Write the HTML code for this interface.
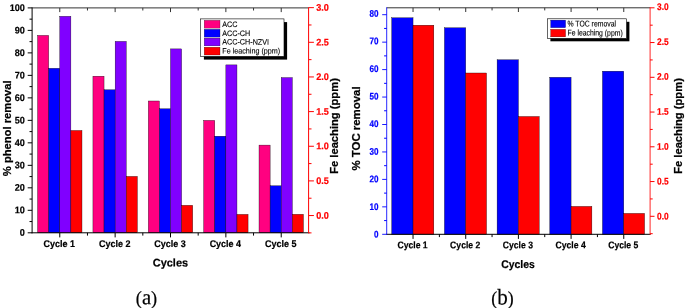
<!DOCTYPE html>
<html><head><meta charset="utf-8"><title>Reusability charts</title>
<style>html,body{margin:0;padding:0;background:#fff;}svg{display:block;will-change:transform;opacity:0.999;}</style>
</head><body>
<svg width="685" height="308" viewBox="0 0 685 308">
<rect width="685" height="308" fill="#fff"/>
<rect x="37.58" y="35.40" width="11.10" height="197.40" fill="#ff0080" stroke="#000" stroke-width="0.35"/>
<rect x="48.68" y="68.30" width="11.10" height="164.50" fill="#0000ff" stroke="#000" stroke-width="0.35"/>
<rect x="59.78" y="16.30" width="11.10" height="216.50" fill="#8000ff" stroke="#000" stroke-width="0.35"/>
<rect x="70.88" y="130.50" width="11.10" height="102.30" fill="#ff0000" stroke="#000" stroke-width="0.35"/>
<rect x="92.94" y="76.20" width="11.10" height="156.60" fill="#ff0080" stroke="#000" stroke-width="0.35"/>
<rect x="104.04" y="89.80" width="11.10" height="143.00" fill="#0000ff" stroke="#000" stroke-width="0.35"/>
<rect x="115.14" y="41.40" width="11.10" height="191.40" fill="#8000ff" stroke="#000" stroke-width="0.35"/>
<rect x="126.24" y="176.40" width="11.10" height="56.40" fill="#ff0000" stroke="#000" stroke-width="0.35"/>
<rect x="148.30" y="101.00" width="11.10" height="131.80" fill="#ff0080" stroke="#000" stroke-width="0.35"/>
<rect x="159.40" y="108.80" width="11.10" height="124.00" fill="#0000ff" stroke="#000" stroke-width="0.35"/>
<rect x="170.50" y="48.90" width="11.10" height="183.90" fill="#8000ff" stroke="#000" stroke-width="0.35"/>
<rect x="181.60" y="205.30" width="11.10" height="27.50" fill="#ff0000" stroke="#000" stroke-width="0.35"/>
<rect x="203.66" y="120.40" width="11.10" height="112.40" fill="#ff0080" stroke="#000" stroke-width="0.35"/>
<rect x="214.76" y="136.20" width="11.10" height="96.60" fill="#0000ff" stroke="#000" stroke-width="0.35"/>
<rect x="225.86" y="64.90" width="11.10" height="167.90" fill="#8000ff" stroke="#000" stroke-width="0.35"/>
<rect x="236.96" y="214.40" width="11.10" height="18.40" fill="#ff0000" stroke="#000" stroke-width="0.35"/>
<rect x="259.02" y="145.10" width="11.10" height="87.70" fill="#ff0080" stroke="#000" stroke-width="0.35"/>
<rect x="270.12" y="185.80" width="11.10" height="47.00" fill="#0000ff" stroke="#000" stroke-width="0.35"/>
<rect x="281.22" y="77.60" width="11.10" height="155.20" fill="#8000ff" stroke="#000" stroke-width="0.35"/>
<rect x="292.32" y="214.30" width="11.10" height="18.50" fill="#ff0000" stroke="#000" stroke-width="0.35"/>
<line x1="32.10" y1="7.90" x2="308.90" y2="7.90" stroke="#333" stroke-width="1"/>
<line x1="31.60" y1="232.80" x2="309.40" y2="232.80" stroke="#000" stroke-width="1"/>
<line x1="32.10" y1="7.40" x2="32.10" y2="233.30" stroke="#000" stroke-width="1"/>
<line x1="308.60" y1="7.40" x2="308.60" y2="233.30" stroke="#ff0000" stroke-width="1"/>
<line x1="59.78" y1="232.80" x2="59.78" y2="237.40" stroke="#000" stroke-width="1"/>
<line x1="59.78" y1="7.90" x2="59.78" y2="12.10" stroke="#333" stroke-width="1"/>
<text transform="translate(59.28,247.10) rotate(0.05) scale(0.927,1)" font-family="'Liberation Sans', Arial, sans-serif" font-size="9.7" font-weight="bold" fill="#000" text-anchor="middle" stroke="#000" stroke-width="0.2">Cycle 1</text>
<line x1="115.14" y1="232.80" x2="115.14" y2="237.40" stroke="#000" stroke-width="1"/>
<line x1="115.14" y1="7.90" x2="115.14" y2="12.10" stroke="#333" stroke-width="1"/>
<text transform="translate(114.64,247.10) rotate(0.05) scale(0.927,1)" font-family="'Liberation Sans', Arial, sans-serif" font-size="9.7" font-weight="bold" fill="#000" text-anchor="middle" stroke="#000" stroke-width="0.2">Cycle 2</text>
<line x1="170.50" y1="232.80" x2="170.50" y2="237.40" stroke="#000" stroke-width="1"/>
<line x1="170.50" y1="7.90" x2="170.50" y2="12.10" stroke="#333" stroke-width="1"/>
<text transform="translate(170.00,247.10) rotate(0.05) scale(0.927,1)" font-family="'Liberation Sans', Arial, sans-serif" font-size="9.7" font-weight="bold" fill="#000" text-anchor="middle" stroke="#000" stroke-width="0.2">Cycle 3</text>
<line x1="225.86" y1="232.80" x2="225.86" y2="237.40" stroke="#000" stroke-width="1"/>
<line x1="225.86" y1="7.90" x2="225.86" y2="12.10" stroke="#333" stroke-width="1"/>
<text transform="translate(225.36,247.10) rotate(0.05) scale(0.927,1)" font-family="'Liberation Sans', Arial, sans-serif" font-size="9.7" font-weight="bold" fill="#000" text-anchor="middle" stroke="#000" stroke-width="0.2">Cycle 4</text>
<line x1="281.22" y1="232.80" x2="281.22" y2="237.40" stroke="#000" stroke-width="1"/>
<line x1="281.22" y1="7.90" x2="281.22" y2="12.10" stroke="#333" stroke-width="1"/>
<text transform="translate(280.72,247.10) rotate(0.05) scale(0.927,1)" font-family="'Liberation Sans', Arial, sans-serif" font-size="9.7" font-weight="bold" fill="#000" text-anchor="middle" stroke="#000" stroke-width="0.2">Cycle 5</text>
<line x1="87.46" y1="232.80" x2="87.46" y2="235.60" stroke="#000" stroke-width="1"/>
<line x1="87.46" y1="7.90" x2="87.46" y2="10.50" stroke="#333" stroke-width="1"/>
<line x1="142.82" y1="232.80" x2="142.82" y2="235.60" stroke="#000" stroke-width="1"/>
<line x1="142.82" y1="7.90" x2="142.82" y2="10.50" stroke="#333" stroke-width="1"/>
<line x1="198.18" y1="232.80" x2="198.18" y2="235.60" stroke="#000" stroke-width="1"/>
<line x1="198.18" y1="7.90" x2="198.18" y2="10.50" stroke="#333" stroke-width="1"/>
<line x1="253.54" y1="232.80" x2="253.54" y2="235.60" stroke="#000" stroke-width="1"/>
<line x1="253.54" y1="7.90" x2="253.54" y2="10.50" stroke="#333" stroke-width="1"/>
<line x1="27.70" y1="232.80" x2="32.10" y2="232.80" stroke="#000" stroke-width="1"/>
<text transform="translate(24.90,235.85) rotate(0.05) scale(0.948,1)" font-family="'Liberation Sans', Arial, sans-serif" font-size="9.6" font-weight="bold" fill="#000" text-anchor="end" stroke="#000" stroke-width="0.2">0</text>
<line x1="27.70" y1="210.31" x2="32.10" y2="210.31" stroke="#000" stroke-width="1"/>
<text transform="translate(24.90,213.36) rotate(0.05) scale(0.948,1)" font-family="'Liberation Sans', Arial, sans-serif" font-size="9.6" font-weight="bold" fill="#000" text-anchor="end" stroke="#000" stroke-width="0.2">10</text>
<line x1="27.70" y1="187.82" x2="32.10" y2="187.82" stroke="#000" stroke-width="1"/>
<text transform="translate(24.90,190.87) rotate(0.05) scale(0.948,1)" font-family="'Liberation Sans', Arial, sans-serif" font-size="9.6" font-weight="bold" fill="#000" text-anchor="end" stroke="#000" stroke-width="0.2">20</text>
<line x1="27.70" y1="165.33" x2="32.10" y2="165.33" stroke="#000" stroke-width="1"/>
<text transform="translate(24.90,168.38) rotate(0.05) scale(0.948,1)" font-family="'Liberation Sans', Arial, sans-serif" font-size="9.6" font-weight="bold" fill="#000" text-anchor="end" stroke="#000" stroke-width="0.2">30</text>
<line x1="27.70" y1="142.84" x2="32.10" y2="142.84" stroke="#000" stroke-width="1"/>
<text transform="translate(24.90,145.89) rotate(0.05) scale(0.948,1)" font-family="'Liberation Sans', Arial, sans-serif" font-size="9.6" font-weight="bold" fill="#000" text-anchor="end" stroke="#000" stroke-width="0.2">40</text>
<line x1="27.70" y1="120.35" x2="32.10" y2="120.35" stroke="#000" stroke-width="1"/>
<text transform="translate(24.90,123.40) rotate(0.05) scale(0.948,1)" font-family="'Liberation Sans', Arial, sans-serif" font-size="9.6" font-weight="bold" fill="#000" text-anchor="end" stroke="#000" stroke-width="0.2">50</text>
<line x1="27.70" y1="97.86" x2="32.10" y2="97.86" stroke="#000" stroke-width="1"/>
<text transform="translate(24.90,100.91) rotate(0.05) scale(0.948,1)" font-family="'Liberation Sans', Arial, sans-serif" font-size="9.6" font-weight="bold" fill="#000" text-anchor="end" stroke="#000" stroke-width="0.2">60</text>
<line x1="27.70" y1="75.37" x2="32.10" y2="75.37" stroke="#000" stroke-width="1"/>
<text transform="translate(24.90,78.42) rotate(0.05) scale(0.948,1)" font-family="'Liberation Sans', Arial, sans-serif" font-size="9.6" font-weight="bold" fill="#000" text-anchor="end" stroke="#000" stroke-width="0.2">70</text>
<line x1="27.70" y1="52.88" x2="32.10" y2="52.88" stroke="#000" stroke-width="1"/>
<text transform="translate(24.90,55.93) rotate(0.05) scale(0.948,1)" font-family="'Liberation Sans', Arial, sans-serif" font-size="9.6" font-weight="bold" fill="#000" text-anchor="end" stroke="#000" stroke-width="0.2">80</text>
<line x1="27.70" y1="30.39" x2="32.10" y2="30.39" stroke="#000" stroke-width="1"/>
<text transform="translate(24.90,33.44) rotate(0.05) scale(0.948,1)" font-family="'Liberation Sans', Arial, sans-serif" font-size="9.6" font-weight="bold" fill="#000" text-anchor="end" stroke="#000" stroke-width="0.2">90</text>
<line x1="27.70" y1="7.90" x2="32.10" y2="7.90" stroke="#000" stroke-width="1"/>
<text transform="translate(24.90,10.95) rotate(0.05) scale(0.948,1)" font-family="'Liberation Sans', Arial, sans-serif" font-size="9.6" font-weight="bold" fill="#000" text-anchor="end" stroke="#000" stroke-width="0.2">100</text>
<line x1="29.50" y1="221.56" x2="32.10" y2="221.56" stroke="#000" stroke-width="1"/>
<line x1="29.50" y1="199.06" x2="32.10" y2="199.06" stroke="#000" stroke-width="1"/>
<line x1="29.50" y1="176.58" x2="32.10" y2="176.58" stroke="#000" stroke-width="1"/>
<line x1="29.50" y1="154.09" x2="32.10" y2="154.09" stroke="#000" stroke-width="1"/>
<line x1="29.50" y1="131.60" x2="32.10" y2="131.60" stroke="#000" stroke-width="1"/>
<line x1="29.50" y1="109.11" x2="32.10" y2="109.11" stroke="#000" stroke-width="1"/>
<line x1="29.50" y1="86.62" x2="32.10" y2="86.62" stroke="#000" stroke-width="1"/>
<line x1="29.50" y1="64.12" x2="32.10" y2="64.12" stroke="#000" stroke-width="1"/>
<line x1="29.50" y1="41.64" x2="32.10" y2="41.64" stroke="#000" stroke-width="1"/>
<line x1="29.50" y1="19.15" x2="32.10" y2="19.15" stroke="#000" stroke-width="1"/>
<line x1="308.90" y1="215.55" x2="313.90" y2="215.55" stroke="#ff0000" stroke-width="1"/>
<text transform="translate(316.20,218.65) rotate(0.05) scale(0.948,1)" font-family="'Liberation Sans', Arial, sans-serif" font-size="9.6" font-weight="bold" fill="#ff0000" text-anchor="start" stroke="#ff0000" stroke-width="0.2">0.0</text>
<line x1="308.90" y1="180.90" x2="313.90" y2="180.90" stroke="#ff0000" stroke-width="1"/>
<text transform="translate(316.20,184.00) rotate(0.05) scale(0.948,1)" font-family="'Liberation Sans', Arial, sans-serif" font-size="9.6" font-weight="bold" fill="#ff0000" text-anchor="start" stroke="#ff0000" stroke-width="0.2">0.5</text>
<line x1="308.90" y1="146.25" x2="313.90" y2="146.25" stroke="#ff0000" stroke-width="1"/>
<text transform="translate(316.20,149.35) rotate(0.05) scale(0.948,1)" font-family="'Liberation Sans', Arial, sans-serif" font-size="9.6" font-weight="bold" fill="#ff0000" text-anchor="start" stroke="#ff0000" stroke-width="0.2">1.0</text>
<line x1="308.90" y1="111.60" x2="313.90" y2="111.60" stroke="#ff0000" stroke-width="1"/>
<text transform="translate(316.20,114.70) rotate(0.05) scale(0.948,1)" font-family="'Liberation Sans', Arial, sans-serif" font-size="9.6" font-weight="bold" fill="#ff0000" text-anchor="start" stroke="#ff0000" stroke-width="0.2">1.5</text>
<line x1="308.90" y1="76.95" x2="313.90" y2="76.95" stroke="#ff0000" stroke-width="1"/>
<text transform="translate(316.20,80.05) rotate(0.05) scale(0.948,1)" font-family="'Liberation Sans', Arial, sans-serif" font-size="9.6" font-weight="bold" fill="#ff0000" text-anchor="start" stroke="#ff0000" stroke-width="0.2">2.0</text>
<line x1="308.90" y1="42.30" x2="313.90" y2="42.30" stroke="#ff0000" stroke-width="1"/>
<text transform="translate(316.20,45.40) rotate(0.05) scale(0.948,1)" font-family="'Liberation Sans', Arial, sans-serif" font-size="9.6" font-weight="bold" fill="#ff0000" text-anchor="start" stroke="#ff0000" stroke-width="0.2">2.5</text>
<line x1="308.90" y1="7.65" x2="313.90" y2="7.65" stroke="#ff0000" stroke-width="1"/>
<text transform="translate(316.20,10.75) rotate(0.05) scale(0.948,1)" font-family="'Liberation Sans', Arial, sans-serif" font-size="9.6" font-weight="bold" fill="#ff0000" text-anchor="start" stroke="#ff0000" stroke-width="0.2">3.0</text>
<line x1="308.90" y1="232.88" x2="311.50" y2="232.88" stroke="#ff0000" stroke-width="1"/>
<line x1="308.90" y1="198.23" x2="311.50" y2="198.23" stroke="#ff0000" stroke-width="1"/>
<line x1="308.90" y1="163.58" x2="311.50" y2="163.58" stroke="#ff0000" stroke-width="1"/>
<line x1="308.90" y1="128.93" x2="311.50" y2="128.93" stroke="#ff0000" stroke-width="1"/>
<line x1="308.90" y1="94.28" x2="311.50" y2="94.28" stroke="#ff0000" stroke-width="1"/>
<line x1="308.90" y1="59.63" x2="311.50" y2="59.63" stroke="#ff0000" stroke-width="1"/>
<line x1="308.90" y1="24.98" x2="311.50" y2="24.98" stroke="#ff0000" stroke-width="1"/>
<text transform="translate(170.40,266.60) rotate(0.05) scale(0.979,1)" font-family="'Liberation Sans', Arial, sans-serif" font-size="11.2" font-weight="bold" fill="#000" text-anchor="middle" stroke="#000" stroke-width="0.2">Cycles</text>
<text transform="translate(10.95,128.30) rotate(-90)" font-family="'Liberation Sans', Arial, sans-serif" font-size="11.2" font-weight="bold" fill="#000" text-anchor="middle" stroke="#000" stroke-width="0.25">% phenol removal</text>
<text transform="translate(338.10,126.00) rotate(-90)" font-family="'Liberation Sans', Arial, sans-serif" font-size="11.2" font-weight="bold" fill="#000" text-anchor="middle" stroke="#000" stroke-width="0.25">Fe leaching (ppm)</text>
<rect x="203.90" y="22.10" width="83.20" height="37.50" fill="#000" stroke="none" stroke-width="0"/>
<rect x="200.50" y="18.90" width="83.50" height="37.50" fill="#fff" stroke="#000" stroke-width="0.6"/>
<rect x="204.20" y="20.30" width="15.80" height="7.80" fill="#ff0080" stroke="#000" stroke-width="0.25"/>
<text transform="translate(222.30,27.05) rotate(0.05) scale(0.911,1)" font-family="'Liberation Sans', Arial, sans-serif" font-size="7.9" font-weight="normal" fill="#000" text-anchor="start" stroke="#000" stroke-width="0.12">ACC</text>
<rect x="204.20" y="29.30" width="15.80" height="7.80" fill="#0000ff" stroke="#000" stroke-width="0.25"/>
<text transform="translate(222.30,36.00) rotate(0.05) scale(0.911,1)" font-family="'Liberation Sans', Arial, sans-serif" font-size="7.9" font-weight="normal" fill="#000" text-anchor="start" stroke="#000" stroke-width="0.12">ACC-CH</text>
<rect x="204.20" y="38.10" width="15.80" height="7.80" fill="#8000ff" stroke="#000" stroke-width="0.25"/>
<text transform="translate(222.30,44.60) rotate(0.05) scale(0.911,1)" font-family="'Liberation Sans', Arial, sans-serif" font-size="7.9" font-weight="normal" fill="#000" text-anchor="start" stroke="#000" stroke-width="0.12">ACC-CH-NZVI</text>
<rect x="204.20" y="47.20" width="15.80" height="7.80" fill="#ff0000" stroke="#000" stroke-width="0.25"/>
<text transform="translate(222.30,53.55) rotate(0.05) scale(0.911,1)" font-family="'Liberation Sans', Arial, sans-serif" font-size="7.9" font-weight="normal" fill="#000" text-anchor="start" stroke="#000" stroke-width="0.12">Fe leaching (ppm)</text>
<text transform="translate(146.50,304.20) rotate(0.05) scale(0.964,1)" font-family="'Liberation Serif', 'Times New Roman', serif" font-size="19" font-weight="normal" fill="#000" text-anchor="middle" stroke="#000" stroke-width="0.2">(<tspan font-size="21.5">a</tspan>)</text>
<rect x="391.74" y="17.80" width="21.30" height="216.50" fill="#0000ff" stroke="#000" stroke-width="0.35"/>
<rect x="413.04" y="25.20" width="20.80" height="209.10" fill="#ff0000" stroke="#000" stroke-width="0.35"/>
<rect x="444.42" y="27.80" width="21.30" height="206.50" fill="#0000ff" stroke="#000" stroke-width="0.35"/>
<rect x="465.72" y="73.00" width="20.80" height="161.30" fill="#ff0000" stroke="#000" stroke-width="0.35"/>
<rect x="497.10" y="59.80" width="21.30" height="174.50" fill="#0000ff" stroke="#000" stroke-width="0.35"/>
<rect x="518.40" y="116.50" width="20.80" height="117.80" fill="#ff0000" stroke="#000" stroke-width="0.35"/>
<rect x="549.78" y="77.30" width="21.30" height="157.00" fill="#0000ff" stroke="#000" stroke-width="0.35"/>
<rect x="571.08" y="206.40" width="20.80" height="27.90" fill="#ff0000" stroke="#000" stroke-width="0.35"/>
<rect x="602.46" y="71.20" width="21.30" height="163.10" fill="#0000ff" stroke="#000" stroke-width="0.35"/>
<rect x="623.76" y="213.40" width="20.80" height="20.90" fill="#ff0000" stroke="#000" stroke-width="0.35"/>
<line x1="386.70" y1="7.80" x2="650.10" y2="7.80" stroke="#333" stroke-width="1"/>
<line x1="386.20" y1="234.30" x2="650.60" y2="234.30" stroke="#000" stroke-width="1"/>
<line x1="386.70" y1="7.30" x2="386.70" y2="234.80" stroke="#0000ff" stroke-width="0.85"/>
<line x1="650.10" y1="7.30" x2="650.10" y2="234.80" stroke="#ff0000" stroke-width="0.85"/>
<line x1="413.04" y1="234.30" x2="413.04" y2="238.90" stroke="#000" stroke-width="1"/>
<line x1="413.04" y1="7.80" x2="413.04" y2="12.00" stroke="#333" stroke-width="1"/>
<text transform="translate(412.54,248.20) rotate(0.05) scale(0.89,1)" font-family="'Liberation Sans', Arial, sans-serif" font-size="9.7" font-weight="bold" fill="#000" text-anchor="middle" stroke="#000" stroke-width="0.2">Cycle 1</text>
<line x1="465.72" y1="234.30" x2="465.72" y2="238.90" stroke="#000" stroke-width="1"/>
<line x1="465.72" y1="7.80" x2="465.72" y2="12.00" stroke="#333" stroke-width="1"/>
<text transform="translate(465.22,248.20) rotate(0.05) scale(0.89,1)" font-family="'Liberation Sans', Arial, sans-serif" font-size="9.7" font-weight="bold" fill="#000" text-anchor="middle" stroke="#000" stroke-width="0.2">Cycle 2</text>
<line x1="518.40" y1="234.30" x2="518.40" y2="238.90" stroke="#000" stroke-width="1"/>
<line x1="518.40" y1="7.80" x2="518.40" y2="12.00" stroke="#333" stroke-width="1"/>
<text transform="translate(517.90,248.20) rotate(0.05) scale(0.89,1)" font-family="'Liberation Sans', Arial, sans-serif" font-size="9.7" font-weight="bold" fill="#000" text-anchor="middle" stroke="#000" stroke-width="0.2">Cycle 3</text>
<line x1="571.08" y1="234.30" x2="571.08" y2="238.90" stroke="#000" stroke-width="1"/>
<line x1="571.08" y1="7.80" x2="571.08" y2="12.00" stroke="#333" stroke-width="1"/>
<text transform="translate(570.58,248.20) rotate(0.05) scale(0.89,1)" font-family="'Liberation Sans', Arial, sans-serif" font-size="9.7" font-weight="bold" fill="#000" text-anchor="middle" stroke="#000" stroke-width="0.2">Cycle 4</text>
<line x1="623.76" y1="234.30" x2="623.76" y2="238.90" stroke="#000" stroke-width="1"/>
<line x1="623.76" y1="7.80" x2="623.76" y2="12.00" stroke="#333" stroke-width="1"/>
<text transform="translate(623.26,248.20) rotate(0.05) scale(0.89,1)" font-family="'Liberation Sans', Arial, sans-serif" font-size="9.7" font-weight="bold" fill="#000" text-anchor="middle" stroke="#000" stroke-width="0.2">Cycle 5</text>
<line x1="439.38" y1="234.30" x2="439.38" y2="237.10" stroke="#000" stroke-width="1"/>
<line x1="439.38" y1="7.80" x2="439.38" y2="10.40" stroke="#333" stroke-width="1"/>
<line x1="492.06" y1="234.30" x2="492.06" y2="237.10" stroke="#000" stroke-width="1"/>
<line x1="492.06" y1="7.80" x2="492.06" y2="10.40" stroke="#333" stroke-width="1"/>
<line x1="544.74" y1="234.30" x2="544.74" y2="237.10" stroke="#000" stroke-width="1"/>
<line x1="544.74" y1="7.80" x2="544.74" y2="10.40" stroke="#333" stroke-width="1"/>
<line x1="597.42" y1="234.30" x2="597.42" y2="237.10" stroke="#000" stroke-width="1"/>
<line x1="597.42" y1="7.80" x2="597.42" y2="10.40" stroke="#333" stroke-width="1"/>
<line x1="382.20" y1="234.30" x2="386.70" y2="234.30" stroke="#0000ff" stroke-width="0.9"/>
<text transform="translate(378.50,237.50) rotate(0.05) scale(0.845,1)" font-family="'Liberation Sans', Arial, sans-serif" font-size="9.6" font-weight="bold" fill="#0000ff" text-anchor="end" stroke="#0000ff" stroke-width="0.2">0</text>
<line x1="382.20" y1="206.85" x2="386.70" y2="206.85" stroke="#0000ff" stroke-width="0.9"/>
<text transform="translate(378.50,209.90) rotate(0.05) scale(0.845,1)" font-family="'Liberation Sans', Arial, sans-serif" font-size="9.6" font-weight="bold" fill="#0000ff" text-anchor="end" stroke="#0000ff" stroke-width="0.2">10</text>
<line x1="382.20" y1="179.40" x2="386.70" y2="179.40" stroke="#0000ff" stroke-width="0.9"/>
<text transform="translate(378.50,182.30) rotate(0.05) scale(0.845,1)" font-family="'Liberation Sans', Arial, sans-serif" font-size="9.6" font-weight="bold" fill="#0000ff" text-anchor="end" stroke="#0000ff" stroke-width="0.2">20</text>
<line x1="382.20" y1="151.95" x2="386.70" y2="151.95" stroke="#0000ff" stroke-width="0.9"/>
<text transform="translate(378.50,154.70) rotate(0.05) scale(0.845,1)" font-family="'Liberation Sans', Arial, sans-serif" font-size="9.6" font-weight="bold" fill="#0000ff" text-anchor="end" stroke="#0000ff" stroke-width="0.2">30</text>
<line x1="382.20" y1="124.50" x2="386.70" y2="124.50" stroke="#0000ff" stroke-width="0.9"/>
<text transform="translate(378.50,127.10) rotate(0.05) scale(0.845,1)" font-family="'Liberation Sans', Arial, sans-serif" font-size="9.6" font-weight="bold" fill="#0000ff" text-anchor="end" stroke="#0000ff" stroke-width="0.2">40</text>
<line x1="382.20" y1="97.05" x2="386.70" y2="97.05" stroke="#0000ff" stroke-width="0.9"/>
<text transform="translate(378.50,99.50) rotate(0.05) scale(0.845,1)" font-family="'Liberation Sans', Arial, sans-serif" font-size="9.6" font-weight="bold" fill="#0000ff" text-anchor="end" stroke="#0000ff" stroke-width="0.2">50</text>
<line x1="382.20" y1="69.60" x2="386.70" y2="69.60" stroke="#0000ff" stroke-width="0.9"/>
<text transform="translate(378.50,71.90) rotate(0.05) scale(0.845,1)" font-family="'Liberation Sans', Arial, sans-serif" font-size="9.6" font-weight="bold" fill="#0000ff" text-anchor="end" stroke="#0000ff" stroke-width="0.2">60</text>
<line x1="382.20" y1="42.15" x2="386.70" y2="42.15" stroke="#0000ff" stroke-width="0.9"/>
<text transform="translate(378.50,44.30) rotate(0.05) scale(0.845,1)" font-family="'Liberation Sans', Arial, sans-serif" font-size="9.6" font-weight="bold" fill="#0000ff" text-anchor="end" stroke="#0000ff" stroke-width="0.2">70</text>
<line x1="382.20" y1="14.70" x2="386.70" y2="14.70" stroke="#0000ff" stroke-width="0.9"/>
<text transform="translate(378.50,16.70) rotate(0.05) scale(0.845,1)" font-family="'Liberation Sans', Arial, sans-serif" font-size="9.6" font-weight="bold" fill="#0000ff" text-anchor="end" stroke="#0000ff" stroke-width="0.2">80</text>
<line x1="384.10" y1="220.58" x2="386.70" y2="220.58" stroke="#0000ff" stroke-width="1"/>
<line x1="384.10" y1="193.12" x2="386.70" y2="193.12" stroke="#0000ff" stroke-width="1"/>
<line x1="384.10" y1="165.68" x2="386.70" y2="165.68" stroke="#0000ff" stroke-width="1"/>
<line x1="384.10" y1="138.23" x2="386.70" y2="138.23" stroke="#0000ff" stroke-width="1"/>
<line x1="384.10" y1="110.78" x2="386.70" y2="110.78" stroke="#0000ff" stroke-width="1"/>
<line x1="384.10" y1="83.33" x2="386.70" y2="83.33" stroke="#0000ff" stroke-width="1"/>
<line x1="384.10" y1="55.88" x2="386.70" y2="55.88" stroke="#0000ff" stroke-width="1"/>
<line x1="384.10" y1="28.43" x2="386.70" y2="28.43" stroke="#0000ff" stroke-width="1"/>
<line x1="650.10" y1="216.30" x2="654.50" y2="216.30" stroke="#ff0000" stroke-width="1"/>
<text transform="translate(657.00,219.53) rotate(0.05) scale(0.871,1)" font-family="'Liberation Sans', Arial, sans-serif" font-size="9.6" font-weight="bold" fill="#ff0000" text-anchor="start" stroke="#ff0000" stroke-width="0.2">0.0</text>
<line x1="650.10" y1="181.55" x2="654.50" y2="181.55" stroke="#ff0000" stroke-width="1"/>
<text transform="translate(657.00,184.60) rotate(0.05) scale(0.871,1)" font-family="'Liberation Sans', Arial, sans-serif" font-size="9.6" font-weight="bold" fill="#ff0000" text-anchor="start" stroke="#ff0000" stroke-width="0.2">0.5</text>
<line x1="650.10" y1="146.80" x2="654.50" y2="146.80" stroke="#ff0000" stroke-width="1"/>
<text transform="translate(657.00,149.67) rotate(0.05) scale(0.871,1)" font-family="'Liberation Sans', Arial, sans-serif" font-size="9.6" font-weight="bold" fill="#ff0000" text-anchor="start" stroke="#ff0000" stroke-width="0.2">1.0</text>
<line x1="650.10" y1="112.05" x2="654.50" y2="112.05" stroke="#ff0000" stroke-width="1"/>
<text transform="translate(657.00,114.74) rotate(0.05) scale(0.871,1)" font-family="'Liberation Sans', Arial, sans-serif" font-size="9.6" font-weight="bold" fill="#ff0000" text-anchor="start" stroke="#ff0000" stroke-width="0.2">1.5</text>
<line x1="650.10" y1="77.30" x2="654.50" y2="77.30" stroke="#ff0000" stroke-width="1"/>
<text transform="translate(657.00,79.81) rotate(0.05) scale(0.871,1)" font-family="'Liberation Sans', Arial, sans-serif" font-size="9.6" font-weight="bold" fill="#ff0000" text-anchor="start" stroke="#ff0000" stroke-width="0.2">2.0</text>
<line x1="650.10" y1="42.55" x2="654.50" y2="42.55" stroke="#ff0000" stroke-width="1"/>
<text transform="translate(657.00,44.88) rotate(0.05) scale(0.871,1)" font-family="'Liberation Sans', Arial, sans-serif" font-size="9.6" font-weight="bold" fill="#ff0000" text-anchor="start" stroke="#ff0000" stroke-width="0.2">2.5</text>
<line x1="650.10" y1="7.80" x2="654.50" y2="7.80" stroke="#ff0000" stroke-width="1"/>
<text transform="translate(657.00,9.95) rotate(0.05) scale(0.871,1)" font-family="'Liberation Sans', Arial, sans-serif" font-size="9.6" font-weight="bold" fill="#ff0000" text-anchor="start" stroke="#ff0000" stroke-width="0.2">3.0</text>
<line x1="650.10" y1="233.68" x2="652.70" y2="233.68" stroke="#ff0000" stroke-width="1"/>
<line x1="650.10" y1="198.93" x2="652.70" y2="198.93" stroke="#ff0000" stroke-width="1"/>
<line x1="650.10" y1="164.18" x2="652.70" y2="164.18" stroke="#ff0000" stroke-width="1"/>
<line x1="650.10" y1="129.43" x2="652.70" y2="129.43" stroke="#ff0000" stroke-width="1"/>
<line x1="650.10" y1="94.68" x2="652.70" y2="94.68" stroke="#ff0000" stroke-width="1"/>
<line x1="650.10" y1="59.93" x2="652.70" y2="59.93" stroke="#ff0000" stroke-width="1"/>
<line x1="650.10" y1="25.18" x2="652.70" y2="25.18" stroke="#ff0000" stroke-width="1"/>
<text transform="translate(518.00,267.90) rotate(0.05) scale(0.95,1)" font-family="'Liberation Sans', Arial, sans-serif" font-size="11.0" font-weight="bold" fill="#000" text-anchor="middle" stroke="#000" stroke-width="0.2">Cycles</text>
<text transform="translate(360.40,128.50) rotate(-90) scale(1.02,1)" font-family="'Liberation Sans', Arial, sans-serif" font-size="11.2" font-weight="bold" fill="#000" text-anchor="middle" stroke="#000" stroke-width="0.25">% TOC removal</text>
<text transform="translate(682.00,126.00) rotate(-90)" font-family="'Liberation Sans', Arial, sans-serif" font-size="11.2" font-weight="bold" fill="#000" text-anchor="middle" stroke="#000" stroke-width="0.25">Fe leaching (ppm)</text>
<rect x="550.40" y="21.80" width="79.00" height="19.50" fill="#000" stroke="none" stroke-width="0"/>
<rect x="547.40" y="18.80" width="79.20" height="19.60" fill="#fff" stroke="#000" stroke-width="0.6"/>
<rect x="550.70" y="20.10" width="14.90" height="7.60" fill="#0000ff" stroke="#000" stroke-width="0.25"/>
<text transform="translate(567.50,26.40) rotate(0.05) scale(0.817,1)" font-family="'Liberation Sans', Arial, sans-serif" font-size="8.4" font-weight="normal" fill="#000" text-anchor="start" stroke="#000" stroke-width="0.12">% TOC removal</text>
<rect x="550.70" y="29.30" width="14.90" height="7.60" fill="#ff0000" stroke="#000" stroke-width="0.25"/>
<text transform="translate(567.50,35.60) rotate(0.05) scale(0.817,1)" font-family="'Liberation Sans', Arial, sans-serif" font-size="8.4" font-weight="normal" fill="#000" text-anchor="start" stroke="#000" stroke-width="0.12">Fe leaching (ppm)</text>
<text transform="translate(502.40,304.50) rotate(0.05) scale(0.935,1)" font-family="'Liberation Serif', 'Times New Roman', serif" font-size="19" font-weight="normal" fill="#000" text-anchor="middle" stroke="#000" stroke-width="0.2">(<tspan font-size="22.5">b</tspan>)</text>
</svg>
</body></html>
